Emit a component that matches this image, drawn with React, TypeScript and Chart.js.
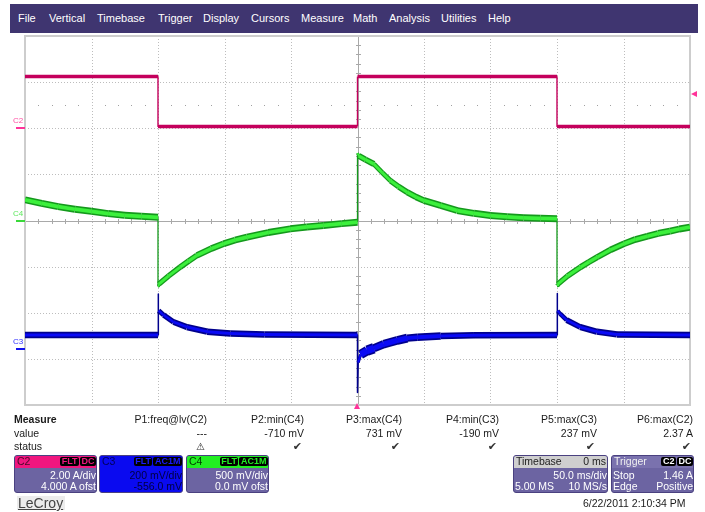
import React, { useEffect, useRef } from 'react';
import { Chart, registerables } from 'chart.js';
Chart.register(...registerables);

// ---- data (time in ms, trigger at 0) ----
const C2_T = [-250, -150, -150, 0, 0, 150, 150, 250];
const C2_A = [2.24, 2.24, 0.08, 0.08, 2.24, 2.24, 0.08, 0.08];

const C4_T = [-250, -237.5, -225, -212.5, -200, -187.5, -175, -162.5, -150, -150, -149.4, -142, -133.3, -127, -120.7, -110, -100.7, -92, -83, -67, -50.5, -38, -25.6, -12, 0, 0, 1, 6, 12.3, 18.5, 24.8, 31, 37.4, 44, 50, 62.5, 75, 87.5, 100, 112.5, 125, 137.5, 150, 150, 150.6, 158, 167.7, 174, 180.3, 190, 200.4, 209, 218, 226, 235, 242, 250];
const C4_MV = [225, 186, 150, 122, 100, 75, 56, 45, 35, -710, -690, -600, -505, -440, -378, -305, -252, -212, -180, -130, -90, -70, -54, -34, -18, 731, 700, 660, 612, 520, 432, 366, 306, 255, 216, 162, 108, 78, 54, 40, 29, 24, 20, -700, -690, -600, -505, -450, -397, -320, -252, -205, -170, -140, -115, -92, -72];

const C3_T = [-250, -150, -150, -149.5, -145.8, -138.3, -128.2, -113, -95.6, -70, 0, 0, 0.5, 2.3, 7.3, 12.3, 19.8, 29.9, 37.4, 45, 62.5, 87.6, 150, 150, 150.5, 152.3, 157.3, 167.4, 180, 195, 250];
const C3_MV = [60, 60, 237, 165, 146, 116, 94, 74, 66, 62, 60, -190, -60, -25, -8, 2, 20, 36, 46, 50, 55, 58, 60, 240, 165, 152, 124, 94, 74, 62, 60];

const X_DIVS = [-250, -200, -150, -100, -50, 0, 50, 100, 150, 200, 250];
const Y_DIVS = [-2000, -1500, -1000, -500, 0, 500, 1000, 1500, 2000];

const MENU = ['File', 'Vertical', 'Timebase', 'Trigger', 'Display', 'Cursors', 'Measure', 'Math', 'Analysis', 'Utilities', 'Help'];
const MENU_X = [18, 49, 97, 158, 203, 251, 301, 353, 389, 441, 488];

const P_HEAD = ['P1:freq@lv(C2)', 'P2:min(C4)', 'P3:max(C4)', 'P4:min(C3)', 'P5:max(C3)', 'P6:max(C2)'];
const P_VAL = ['---', '-710 mV', '731 mV', '-190 mV', '237 mV', '2.37 A'];
const P_STATUS = ['⚠', '✔', '✔', '✔', '✔', '✔'];
const P_RIGHT = [207, 304, 402, 499, 597, 693];

const pts = (t: number[], v: number[]) => t.map((x, i) => ({ x, y: v[i] }));

// stroke width giving a constant vertical band thickness h
const cosOf = (c: any) => {
  const dx = c.p1.x - c.p0.x, dy = c.p1.y - c.p0.y;
  const L = Math.hypot(dx, dy) || 1;
  return Math.abs(dx) / L;
};
const band = (h: (c: any) => number, min: number) => (c: any) => Math.max(min, h(c) * cosOf(c));
const c3Thick = (c: any) => {
  const x = c.p0.parsed.x;
  if (x >= 0 && x < 12) return 11;
  if (x >= 12 && x < 30) return 9;
  if (x >= 30 && x < 50) return 7.5;
  return 6.5;
};

const gridPlugin = {
  id: 'scopeGrid',
  beforeDatasetsDraw(chart: any) {
    const { ctx, chartArea: a, scales } = chart;
    const xs = scales.x, ys = scales.y;
    ctx.save();
    ctx.lineWidth = 1;
    ctx.strokeStyle = '#bdbdbd';
    ctx.setLineDash([1, 2]);
    X_DIVS.forEach((t) => {
      if (t === 0 || t === -250 || t === 250) return;
      const px = Math.round(xs.getPixelForValue(t)) + 0.5;
      ctx.beginPath(); ctx.moveTo(px, a.top); ctx.lineTo(px, a.bottom); ctx.stroke();
    });
    Y_DIVS.forEach((v) => {
      if (v === 0 || v === -2000 || v === 2000) return;
      const py = Math.round(ys.getPixelForValue(v)) + 0.5;
      ctx.beginPath(); ctx.moveTo(a.left, py); ctx.lineTo(a.right, py); ctx.stroke();
    });
    ctx.setLineDash([]);
    ctx.strokeStyle = '#a9a9a9';
    const cx = Math.round(xs.getPixelForValue(0)) + 0.5;
    const cy = Math.round(ys.getPixelForValue(0)) + 0.5;
    ctx.beginPath(); ctx.moveTo(cx, a.top); ctx.lineTo(cx, a.bottom); ctx.stroke();
    ctx.beginPath(); ctx.moveTo(a.left, cy); ctx.lineTo(a.right, cy); ctx.stroke();
    const rowY = Math.round(ys.getPixelForValue(1250));
    for (let t = -240; t < 250; t += 10) {
      if (t % 50 === 0) continue;
      const px = Math.round(xs.getPixelForValue(t)) + 0.5;
      ctx.beginPath(); ctx.moveTo(px, cy - 2.5); ctx.lineTo(px, cy + 2.5); ctx.stroke();
      ctx.fillStyle = '#a0a0a0';
      ctx.fillRect(px - 0.5, rowY, 1, 1);
    }
    for (let v = -1900; v < 2000; v += 100) {
      if (v % 500 === 0) continue;
      const py = Math.round(ys.getPixelForValue(v)) + 0.5;
      ctx.beginPath(); ctx.moveTo(cx - 2.5, py); ctx.lineTo(cx + 2.5, py); ctx.stroke();
    }
    ctx.strokeStyle = '#cdcdcd';
    ctx.lineWidth = 2;
    ctx.strokeRect(a.left, a.top, a.right - a.left, a.bottom - a.top);
    ctx.restore();
  },
};

const font = '"Liberation Sans", Arial, sans-serif';

function Badge({ text, color }: { text: string; color: string }) {
  return (
    <span style={{ background: '#000', color, borderRadius: 2, padding: '0 1.5px', marginLeft: 1, fontSize: 9, fontWeight: 'bold', lineHeight: '9px', height: 9, display: 'inline-block' }}>{text}</span>
  );
}

function ChBox(p: any) {
  return (
    <div style={{ position: 'absolute', left: p.left, top: 455, width: p.width, height: 38, background: p.bodyBg, border: '1px solid #4a4180', borderRadius: 3, boxSizing: 'border-box', overflow: 'hidden', fontSize: 10.5, color: p.textColor }}>
      <div style={{ height: 11.5, background: p.headBg, display: 'flex', justifyContent: 'space-between', alignItems: 'center', padding: '0 0 0 2px', color: p.headColor, lineHeight: '11px' }}>
        <span>{p.head}</span>
        <span style={{ display: 'flex' }}>{p.headRight}</span>
      </div>
      <div style={{ display: 'flex', justifyContent: 'space-between', height: 11, lineHeight: '11px', marginTop: 2, padding: '0 0 0 1px' }}>
        <span>{p.l1}</span><span>{p.r1}</span>
      </div>
      <div style={{ display: 'flex', justifyContent: 'space-between', height: 11, lineHeight: '11px', padding: '0 0 0 1px' }}>
        <span>{p.l2}</span><span>{p.r2}</span>
      </div>
    </div>
  );
}

export default function App() {
  const ref = useRef<HTMLCanvasElement>(null);
  useEffect(() => {
    const chart = new Chart(ref.current as HTMLCanvasElement, {
      type: 'line',
      data: {
        datasets: [
          {
            data: pts(C2_T, C2_A), yAxisID: 'yC2', borderColor: '#c4005c', order: 0,
            segment: { borderWidth: band(() => 3.5, 1.4) },
          },
          {
            data: pts(C4_T, C4_MV), yAxisID: 'y', order: 0, borderColor: '#3cf03c',
            segment: {
              borderColor: (c: any) => (cosOf(c) < 0.25 ? 'rgba(0,0,0,0)' : '#3cf03c'),
              borderWidth: band(() => 3.8, 0.1),
            },
          },
          {
            data: pts(C4_T, C4_MV), yAxisID: 'y', order: 1, borderColor: '#14991c',
            segment: { borderWidth: band(() => 7, 1.3) },
          },
          {
            data: pts(C3_T, C3_MV), yAxisID: 'yC3', order: 0, borderColor: '#0a0af5',
            segment: {
              borderColor: (c: any) => (cosOf(c) < 0.25 ? 'rgba(0,0,0,0)' : '#0a0af5'),
              borderWidth: band((c: any) => c3Thick(c) - 3.5, 0.1),
            },
          },
          {
            data: pts(C3_T, C3_MV), yAxisID: 'yC3', order: 1, borderColor: '#00008c',
            segment: { borderWidth: band(c3Thick, 1.5) },
          },
        ] as any,
      },
      options: {
        animation: false,
        responsive: false,
        devicePixelRatio: 1,
        events: [],
        layout: { padding: { left: 25, right: 15, top: 36, bottom: 107 } },
        plugins: { legend: { display: false }, tooltip: { enabled: false } },
        elements: { point: { radius: 0 }, line: { tension: 0, borderCapStyle: 'butt', borderJoinStyle: 'round' } },
        scales: {
          x: { type: 'linear', min: -250, max: 250, display: false },
          y: { type: 'linear', min: -2000, max: 2000, display: false },
          yC2: { type: 'linear', axis: 'y', min: -12, max: 4, display: false },
          yC3: { type: 'linear', axis: 'y', min: -244, max: 1356, display: false },
        } as any,
      },
      plugins: [gridPlugin],
    });
    return () => chart.destroy();
  }, []);

  const abs = (s: any) => ({ position: 'absolute' as const, whiteSpace: 'nowrap' as const, ...s });

  return (
    <div style={{ position: 'fixed', left: 0, top: 0, width: 705, height: 512, background: '#fff', overflow: 'hidden', fontFamily: font, color: '#1a1a1a' }}>
      <canvas ref={ref} width={705} height={512} style={{ position: 'absolute', left: 0, top: 0, width: 705, height: 512 }} />
      <div style={abs({ left: 10, top: 4, width: 688, height: 29, background: '#3f3570' })} />
      {MENU.map((m, i) => (
        <div key={m} style={abs({ left: MENU_X[i], top: 11, fontSize: 11, lineHeight: '14px', color: '#fff' })}>{m}</div>
      ))}
      <div style={abs({ left: 13, top: 116, fontSize: 8, lineHeight: '9px', color: '#ff4fa3' })}>C2</div>
      <div style={abs({ left: 16, top: 127, width: 9, height: 2, background: '#ff3399' })} />
      <div style={abs({ left: 13, top: 209, fontSize: 8, lineHeight: '9px', color: '#5ee85e' })}>C4</div>
      <div style={abs({ left: 16, top: 219.5, width: 9, height: 2, background: '#3ad83a' })} />
      <div style={abs({ left: 13, top: 337, fontSize: 8, lineHeight: '9px', color: '#3030ff' })}>C3</div>
      <div style={abs({ left: 16, top: 347.5, width: 9, height: 2, background: '#1010ee' })} />
      <div style={abs({ left: 691, top: 91, width: 0, height: 0, borderTop: '3px solid transparent', borderBottom: '3px solid transparent', borderRight: '6px solid #ff3399' })} />
      <div style={abs({ left: 354, top: 403, width: 0, height: 0, borderLeft: '3.5px solid transparent', borderRight: '3.5px solid transparent', borderBottom: '6px solid #ff3399' })} />
      <div style={abs({ left: 14, top: 413, fontSize: 10.5, lineHeight: '13px', fontWeight: 'bold' })}>Measure</div>
      <div style={abs({ left: 14, top: 427, fontSize: 10.5, lineHeight: '13px' })}>value</div>
      <div style={abs({ left: 14, top: 440, fontSize: 10.5, lineHeight: '13px' })}>status</div>
      {P_HEAD.map((h, i) => (
        <React.Fragment key={h}>
          <div style={abs({ right: 705 - P_RIGHT[i], top: 413, fontSize: 10.5, lineHeight: '13px', textAlign: 'right' })}>{h}</div>
          <div style={abs({ right: 705 - P_RIGHT[i], top: 427, fontSize: 10.5, lineHeight: '13px', textAlign: 'right' })}>{P_VAL[i]}</div>
          <div style={abs({ right: 705 - P_RIGHT[i] + 2, top: 440, fontSize: i === 0 ? 10 : 11, lineHeight: '13px', textAlign: 'right', color: '#333', fontFamily: '"DejaVu Sans", sans-serif' })}>{P_STATUS[i]}</div>
        </React.Fragment>
      ))}
      <ChBox left={14} width={83} bodyBg="#6c64a2" headBg="#f0167f" headColor="#4a0828" textColor="#fff" head="C2"
        headRight={<><Badge text="FLT" color="#f0167f" /><Badge text="DC" color="#f0167f" /></>}
        l1="" r1="2.00 A/div" l2="" r2="4.000 A ofst" />
      <ChBox left={99} width={84} bodyBg="#0a0af0" headBg="#0a0af0" headColor="#00005a" textColor="#000040" head="C3"
        headRight={<><Badge text="FLT" color="#1a1aff" /><Badge text="AC1M" color="#1a1aff" /></>}
        l1="" r1="200 mV/div" l2="" r2="-556.0 mV" />
      <ChBox left={186} width={83} bodyBg="#6c64a2" headBg="#22ee22" headColor="#003a00" textColor="#fff" head="C4"
        headRight={<><Badge text="FLT" color="#22ee22" /><Badge text="AC1M" color="#22ee22" /></>}
        l1="" r1="500 mV/div" l2="" r2="0.0 mV ofst" />
      <ChBox left={513} width={95} bodyBg="#6c64a2" headBg="#cfcfcf" headColor="#222" textColor="#fff" head="Timebase"
        headRight={<span style={{ paddingRight: 1 }}>0 ms</span>}
        l1="" r1="50.0 ms/div" l2="5.00 MS" r2="10 MS/s" />
      <ChBox left={611} width={83} bodyBg="#6c64a2" headBg="#7a72ae" headColor="#f0f0f0" textColor="#fff" head="Trigger"
        headRight={<><Badge text="C2" color="#fff" /><Badge text="DC" color="#fff" /></>}
        l1="Stop" r1="1.46 A" l2="Edge" r2="Positive" />
      <div style={abs({ left: 17, top: 496, width: 48, height: 14, background: '#ececec' })} />
      <div style={abs({ left: 18, top: 495, fontSize: 14, lineHeight: '16px', color: '#444', textDecoration: 'underline' })}>LeCroy</div>
      <div style={abs({ left: 583, top: 497, fontSize: 10.5, lineHeight: '13px', color: '#1a1a1a' })}>6/22/2011 2:10:34 PM</div>
    </div>
  );
}
